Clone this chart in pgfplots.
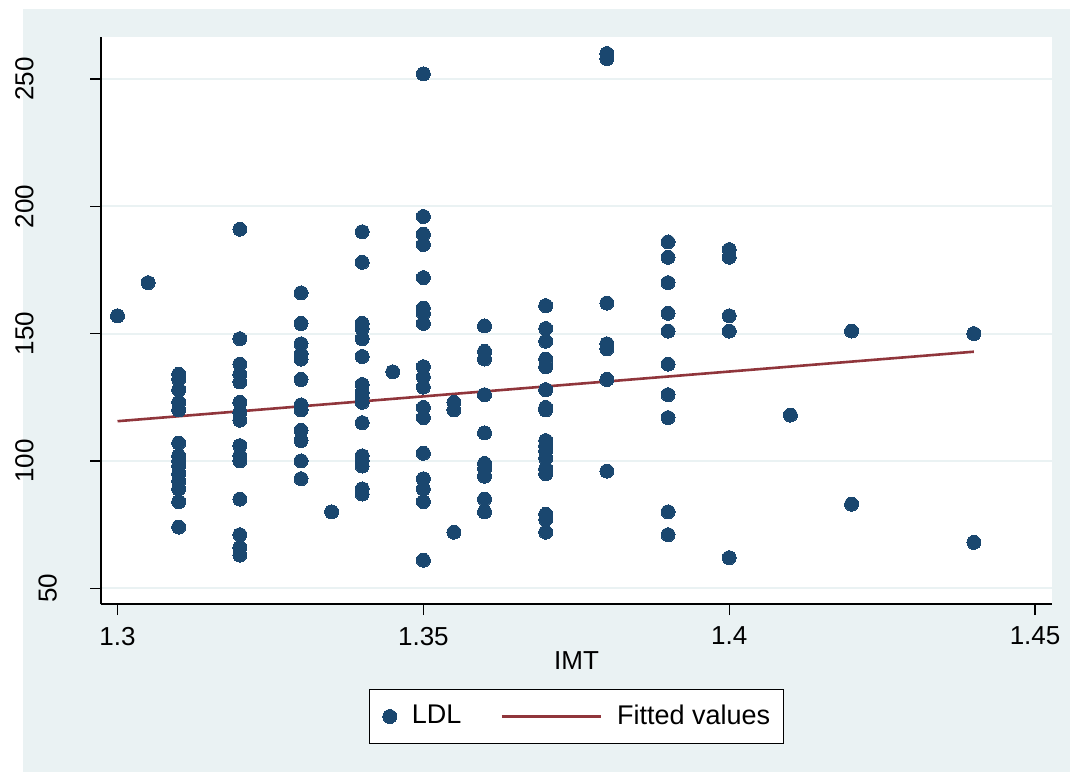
\documentclass[border=0pt]{standalone}
\usepackage{pgfplots}
\pgfplotsset{compat=1.18}
\usepackage{fontspec}
\setmainfont{Liberation Sans}
\definecolor{bg}{RGB}{234,242,243}
\definecolor{navy}{RGB}{26,71,111}
\definecolor{maroon}{RGB}{144,53,59}
\pgfplotsset{fitlegend/.style={legend image code/.code={\draw[##1] (0pt,0pt) -- (49.5pt,0pt);}}}
\begin{document}
\fontsize{13}{15.6}\selectfont
\begin{tikzpicture}
\useasboundingbox (0,0) rectangle (535pt,386.5pt);
\fill[white] (0,0) rectangle (535pt,386.5pt);
\fill[bg] (11.5pt,0.5pt) rectangle (535pt,382pt);
\begin{axis}[
  at={(50.5pt,84.5pt)}, anchor=south west,
  scale only axis, width=475.5pt, height=283.5pt,
  xmin=1.2973, xmax=1.45277, ymin=43.8, ymax=266.5,
  axis lines*=left,
  axis line style={black, line width=0.6pt},
  axis background/.style={fill=white},
  xtick={1.3,1.35,1.4,1.45},
  xticklabels={1.3,1.35,1.4,1.45},
  ytick={50,100,150,200,250},
  yticklabels={{\raisebox{-11.5pt}[\height][0pt]{50}},100,150,200,250},
  tick align=outside, major tick length=5.5pt,
  tick style={black, line width=0.6pt},
  ymajorgrids, grid style={bg, line width=1pt},
  xticklabel style={inner sep=0pt, yshift=-5.85pt},
  yticklabel style={xshift=-28pt, rotate=90, anchor=south, inner sep=0pt},
  xlabel={IMT},
  xlabel style={at={(axis description cs:0.5,0)}, anchor=north, inner sep=0pt, yshift=-23.5pt},
  legend style={at={(axis description cs:0.5,-0.1984)}, anchor=center,
    draw=black, line width=0.5pt, fill=white, legend columns=2,
    inner xsep=6.5pt, inner ysep=7.5pt, nodes={inner sep=0pt},
    font=\fontsize{13.5}{16}\selectfont,
    /tikz/every odd column/.append style={column sep=7.5pt},
    /tikz/every even column/.append style={column sep=19.65pt}},
  legend cell align=left,
]
\addplot[only marks, mark=*, mark size=3.5pt, navy,
  mark options={fill=navy, draw=navy, line width=0pt}] coordinates {
(1.30,157) (1.305,170)
(1.31,134) (1.31,132) (1.31,128) (1.31,123) (1.31,120) (1.31,107) (1.31,102)
(1.31,100) (1.31,98) (1.31,95) (1.31,92) (1.31,89) (1.31,84) (1.31,74)
(1.32,191) (1.32,148) (1.32,138) (1.32,134) (1.32,131) (1.32,123) (1.32,119)
(1.32,116) (1.32,106) (1.32,102) (1.32,100) (1.32,85) (1.32,71) (1.32,66) (1.32,63)
(1.33,166) (1.33,154) (1.33,146) (1.33,142) (1.33,140) (1.33,132) (1.33,122)
(1.33,120) (1.33,112) (1.33,108) (1.33,100) (1.33,93)
(1.335,80)
(1.34,190) (1.34,178) (1.34,154) (1.34,152) (1.34,148) (1.34,141) (1.34,130)
(1.34,127) (1.34,125) (1.34,123) (1.34,115) (1.34,102) (1.34,100) (1.34,98)
(1.34,89) (1.34,87)
(1.345,135)
(1.35,252) (1.35,196) (1.35,189) (1.35,185) (1.35,172) (1.35,160) (1.35,158)
(1.35,154) (1.35,137) (1.35,133) (1.35,129) (1.35,121) (1.35,117) (1.35,103)
(1.35,93) (1.35,89) (1.35,84) (1.35,61)
(1.355,123) (1.355,120) (1.355,72)
(1.36,153) (1.36,143) (1.36,140) (1.36,126) (1.36,111) (1.36,99) (1.36,97)
(1.36,94) (1.36,85) (1.36,80)
(1.37,161) (1.37,152) (1.37,147) (1.37,140) (1.37,137) (1.37,128) (1.37,121)
(1.37,120) (1.37,108) (1.37,106) (1.37,104) (1.37,101) (1.37,97) (1.37,95)
(1.37,79) (1.37,77) (1.37,72)
(1.38,260) (1.38,258) (1.38,162) (1.38,146) (1.38,144) (1.38,132) (1.38,96)
(1.39,186) (1.39,180) (1.39,170) (1.39,158) (1.39,151) (1.39,138) (1.39,126)
(1.39,117) (1.39,80) (1.39,71)
(1.40,183) (1.40,180) (1.40,157) (1.40,151) (1.40,62)
(1.41,118)
(1.42,151) (1.42,83)
(1.44,150) (1.44,68)
};
\addlegendentry{LDL}
\addplot[maroon, line width=1.3pt, no marks, fitlegend] coordinates {
(1.30,115.6) (1.44,142.9)
};
\addlegendentry{Fitted values\hspace{1.5pt}}
\end{axis}
\end{tikzpicture}
\end{document}
